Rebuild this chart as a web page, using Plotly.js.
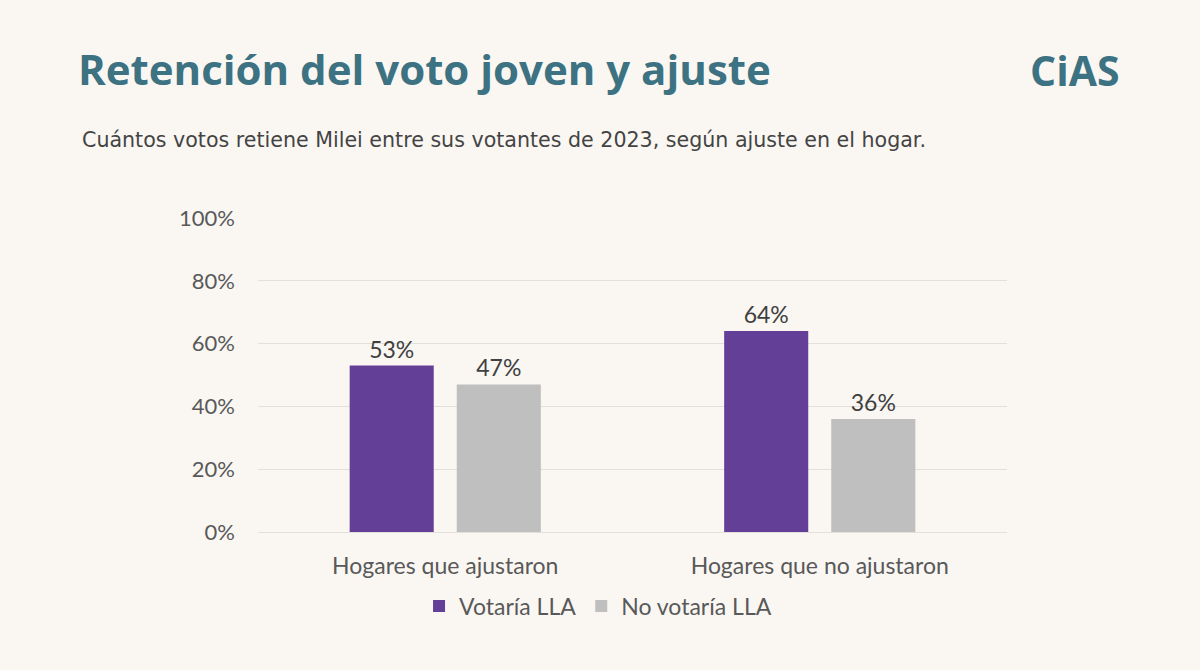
<!DOCTYPE html>
<html>
<head>
<meta charset="utf-8">
<script src="https://cdn.plot.ly/plotly-3.0.1.min.js"></script>
<style>
html,body{margin:0;padding:0;background:#faf7f3;}
#chart{width:1200px;height:670px;}
</style>
</head>
<body>
<div id="chart"></div>
<script>
const categories = ["Hogares que ajustaron", "Hogares que no ajustaron"];
const seriesNames = ["Votaría LLA", "No votaría LLA"];
const votaria = [0.53, 0.64];
const noVotaria = [0.47, 0.36];
const yTicks = [0, 0.2, 0.4, 0.6, 0.8, 1.0];

const textFont = {family: "Lato, 'Open Sans', sans-serif", size: 23, color: "#404040"};

const traces = [
  {
    type: "bar", name: seriesNames[0], x: categories, y: votaria,
    marker: {color: "#643f97"},
    text: votaria.map(v => Math.round(v * 100) + "%"),
    textposition: "outside", textfont: textFont, cliponaxis: false,
    hoverinfo: "skip"
  },
  {
    type: "bar", name: seriesNames[1], x: categories, y: noVotaria,
    marker: {color: "#bfbfbf"},
    text: noVotaria.map(v => Math.round(v * 100) + "%"),
    textposition: "outside", textfont: textFont, cliponaxis: false,
    hoverinfo: "skip"
  }
];

const layout = {
  width: 1200, height: 670,
  paper_bgcolor: "#faf7f3", plot_bgcolor: "#faf7f3",
  margin: {l: 258, r: 193, t: 218, b: 138},
  barmode: "group", bargap: 0.428, bargroupgap: 0.215,
  showlegend: true,
  legend: {
    orientation: "h", x: 0.454, xanchor: "center", y: -0.236, yanchor: "middle",
    font: {family: "Lato, 'Open Sans', sans-serif", size: 23, color: "#595959"},
    bgcolor: "rgba(0,0,0,0)", itemwidth: 20, traceorder: "normal"
  },
  xaxis: {
    type: "category",
    tickfont: {family: "Lato, 'Open Sans', sans-serif", size: 23, color: "#595959"},
    showgrid: false, showline: false, ticks: "", ticklabelstandoff: 18
  },
  yaxis: {
    range: [0, 1], tickvals: yTicks, tickformat: ".0%",
    tickfont: {family: "Lato, 'Open Sans', sans-serif", size: 22, color: "#595959"},
    gridcolor: "#e3dfda", gridwidth: 1, zeroline: true, zerolinecolor: "#e3dfda",
    showline: false, ticks: "", ticklabelstandoff: 22
  },
  title: {
    text: "<b>Retención del voto joven y ajuste</b>",
    x: 78 / 1200, xanchor: "left", xref: "container",
    y: 1 - 70 / 670, yanchor: "middle", yref: "container",
    font: {family: "'Open Sans', sans-serif", size: 42, color: "#3d7282"}
  },
  annotations: [
    {
      text: "Cuántos votos retiene Milei entre sus votantes de 2023, según ajuste en el hogar.",
      xref: "paper", yref: "paper",
      x: (80 - 258) / 749, xanchor: "left",
      y: 1 + (218 - 140) / 314, yanchor: "middle",
      showarrow: false,
      font: {family: "'DejaVu Sans', sans-serif", size: 20.6, color: "#444444"}
    },
    {
      text: "<b>CiAS</b>",
      xref: "paper", yref: "paper",
      x: (1122 - 258) / 749, xanchor: "right",
      y: 1 + (218 - 70) / 314, yanchor: "middle",
      showarrow: false,
      font: {family: "'Open Sans', sans-serif", size: 41, color: "#3d7282"}
    }
  ]
};

Plotly.newPlot("chart", traces, layout, {displayModeBar: false, staticPlot: true});
</script>
</body>
</html>
